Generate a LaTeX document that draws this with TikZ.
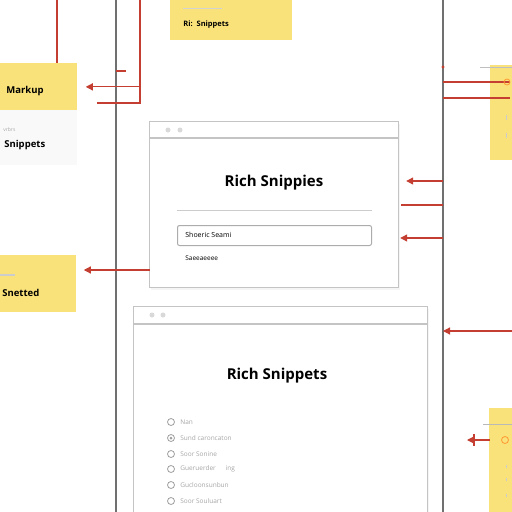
\documentclass[tikz,border=0pt]{standalone}
\usepackage{fontspec}
\setmainfont{Open Sans}
\usetikzlibrary{arrows.meta,shadows}

\definecolor{notey}{RGB}{249,226,122}
\definecolor{linkred}{RGB}{196,62,50}
\definecolor{railgray}{RGB}{112,112,112}
\definecolor{framegray}{RGB}{196,196,196}

\tikzset{every picture/.style={line width=0.75pt}}
\tikzset{
  win/.style={draw=framegray, line width=1.2pt, fill=white, anchor=north west, inner sep=0pt,
    drop shadow={opacity=0.08, shadow xshift=1pt, shadow yshift=-2pt}},
  note/.style={fill=notey, anchor=north west, inner sep=0pt},
  rail/.style={draw=railgray, line width=1.3pt},
  link/.style={draw=linkred, line width=1.2pt},
  linkarrow/.style={link, -{Triangle[width=7pt,length=7pt]}},
  tag/.style={font=\bfseries\fontsize{9.5}{11}\selectfont, anchor=west, inner sep=0pt},
  wintitle/.style={font=\bfseries\fontsize{15}{18}\selectfont, inner sep=0pt},
  faint/.style={text=gray!70, font=\fontsize{6.5}{8}\selectfont, anchor=west, inner sep=0pt},
  radio/.style={circle, draw=gray!75, line width=0.8pt, minimum size=7pt, inner sep=0pt},
  windot/.style={circle, fill=gray!30, minimum size=5pt, inner sep=0pt},
}

\begin{document}
\begin{tikzpicture}[x=1pt,y=-1pt]
\useasboundingbox (0,0) rectangle (512,512);
\clip (0,0) rectangle (512,512);
\fill[white] (0,0) rectangle (512,512);

% rails
\coordinate (railLtop) at (116,0);
\coordinate (railLbot) at (116,512);
\coordinate (railRtop) at (443,0);
\coordinate (railRbot) at (443,512);
\draw[rail] (railLtop) -- (railLbot);
\draw[rail] (railRtop) -- (railRbot);

% notes on the left and top
\node[note, minimum width=122pt, minimum height=40pt] (richnote) at (170,0) {};
\draw[gray!35, line width=1pt] (183,8) -- (222,8);
\node[tag, font=\bfseries\fontsize{7.5}{9}\selectfont] (richtext) at (183,25) {Ri:\ \ Snippets};

\node[note, minimum width=77pt, minimum height=47pt] (markup) at (0,63) {};
\node[tag] (markuptext) at (6,91) {Markup};
\node[fill=gray!5, anchor=north west, minimum width=77pt, minimum height=55pt, inner sep=0pt] (snippanel) at (0,110) {};
\node[faint, font=\fontsize{5}{6}\selectfont] (snipsmall) at (3,130) {vrbrs};
\node[tag] (sniptext) at (4,145) {Snippets};

\node[note, minimum width=76pt, minimum height=57pt] (snetted) at (0,255) {};
\draw[gray!40, line width=1.5pt] (0,275) -- (15,275);
\node[tag] (snettedtext) at (2,293) {Snetted};

% notes on the right
\node[note, minimum width=30pt, minimum height=95pt] (rightnote) at (490,65) {};
\node[note, minimum width=30pt, minimum height=110pt] (lownote) at (489,408) {};
\draw[gray!50] (480,67) -- (512,67);
\draw[gray!40, line width=1pt] (506,115) -- (506,120) (506,133) -- (506,138);
\draw[gray!55] (483,424) -- (512,424);
\draw[gray!40, line width=1pt] (506,465) -- (506,468) (506,478) -- (506,481) (506,494) -- (506,497);

% first window
\node[win, minimum width=249pt, minimum height=166pt] (winA) at (149,121) {};
\draw[framegray, line width=1.2pt] ([yshift=-17pt]winA.north west) -- ([yshift=-17pt]winA.north east);
\node[windot] (winAdot1) at (168,130) {};
\node[windot] (winAdot2) at (180,130) {};
\node[wintitle] (winAtitle) at (274,183) {Rich Snippies};
\draw[gray!40] (177,210) -- (372,210);
\node[draw=gray!65, line width=1pt, rounded corners=2pt, anchor=north west, minimum width=194pt, minimum height=20pt, inner sep=0pt] (search) at (177,225) {};
\node[anchor=west, inner sep=0pt, font=\fontsize{7}{8}\selectfont] (searchtext) at (185,235) {Shoeric Seami};
\node[anchor=west, inner sep=0pt, font=\fontsize{6.5}{8}\selectfont] (belowtext) at (185,258) {Saeeaeeee};

% second window
\node[win, minimum width=294pt, minimum height=220pt] (winB) at (133,306) {};
\draw[framegray, line width=1.2pt] ([yshift=-18pt]winB.north west) -- ([yshift=-18pt]winB.north east);
\node[windot] (winBdot1) at (152,315) {};
\node[windot] (winBdot2) at (163,315) {};
\node[wintitle] (winBtitle) at (277,376) {Rich Snippets};
\foreach \y/\txt [count=\i] in {422/Nan, 438/Sund caroncaton, 454/Soor Sonine, 469/Gueruerder \quad\ ing, 485/Gucloonsunbun, 501/Soor Souluart}{
  \node[radio] (radio\i) at (171,\y) {};
  \node[faint] (label\i) at (180,\y) {\txt};
}
\fill[gray!75] (radio2) circle (1.5pt);

% connectors
\coordinate (topA) at (57,0);
\coordinate (topB) at (140,0);
\coordinate (bendB) at (140,103);
\draw[link] (topA) -- (topA |- markup.north);
\draw[link] (topB) -- (bendB) -- (97,103);
\draw[linkarrow] (topB |- markup.east) -- ([xshift=8pt]markup.east);
\draw[link] (116,71) -- (126,71);

\fill[linkred] (443,67) circle (1.6pt);
\coordinate (rr1) at (443,82);
\coordinate (rr2) at (443,98);
\draw[link] (rr1) -- (510,82);
\draw[link] (rr2) -- (510,98);
\draw[orange!80, line width=0.8pt] (507,82) circle (3pt);

\coordinate (ra) at (443,181);
\coordinate (rb) at (443,205);
\coordinate (rc) at (443,238);
\draw[linkarrow] (ra) -- ([xshift=7pt]winA.east |- ra);
\draw[link] (rb) -- ([xshift=2pt]winA.east |- rb);
\draw[linkarrow] (rc) -- ([xshift=1pt]winA.east |- rc);

\coordinate (la) at (150,270);
\draw[linkarrow] (la) -- ([xshift=7pt]snetted.east |- la);

\coordinate (rd) at (512,331);
\draw[linkarrow] (rd) -- (railRtop |- rd);

\coordinate (re) at (490,440);
\draw[linkarrow] (re) -- (467,440);
\draw[link] (474,434) -- (474,446);
\draw[orange!80, line width=0.8pt] (505,440) circle (3.5pt);

\end{tikzpicture}
\end{document}
